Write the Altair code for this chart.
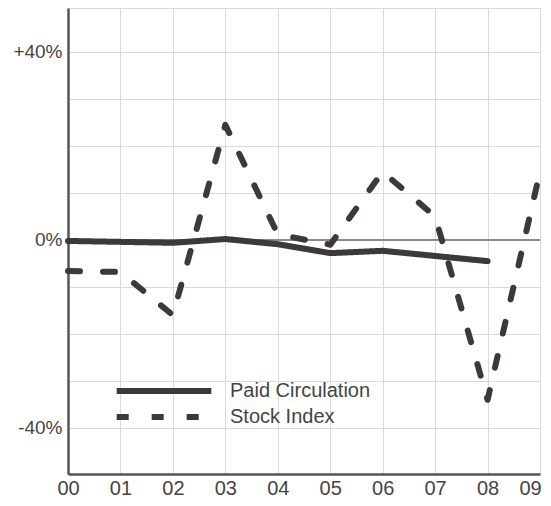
import altair as alt
import pandas as pd

years = ["00", "01", "02", "03", "04", "05", "06", "07", "08", "09"]
paid_circulation = [-0.2, -0.4, -0.6, 0.2, -0.9, -2.8, -2.3, -3.4, -4.5, None]
stock_index = [-6.6, -6.8, -16.0, 24.5, 1.2, -1.0, 14.5, 5.0, -34.0, 14.5]
series_names = ["Paid Circulation", "Stock Index"]
y_label_values = [-40, 0, 40]
y_label_texts = ["-40%", "0%", "+40%"]
y_grid_values = [-50, -40, -30, -20, -10, 0, 10, 20, 30, 40, 50]
zero_line = [0]

rows = []
for yr, p, s in zip(years, paid_circulation, stock_index):
    if p is not None:
        rows.append({"year": yr, "series": series_names[0], "value": p})
    if s is not None:
        rows.append({"year": yr, "series": series_names[1], "value": s})
df = pd.DataFrame(rows)

label_expr = " : ".join(
    f"datum.value == {v} ? '{t}'" for v, t in zip(y_label_values, y_label_texts)
) + " : ''"

FONT = "Liberation Sans"
TXT = "#444444"
INK = "#3d393a"
GRID = "#dadada"

x_enc = alt.X(
    "year:O",
    scale=alt.Scale(type="point", padding=0, domain=years),
    axis=alt.Axis(
        title=None, labelAngle=0, ticks=False, grid=True, labelFontSize=20, labelFont=FONT,
        labelColor=TXT, labelPadding=4, domainColor="#555555", domainWidth=2.5,
        gridColor=GRID, gridWidth=1,
        labelOffset={"condition": {"test": f"datum.value == '{years[-1]}'", "value": -10}, "value": 0},
    ),
)

lines = alt.Chart(df).mark_line(strokeWidth=6, strokeCap="round", strokeJoin="round").encode(
    x=x_enc,
    y=alt.Y(
        "value:Q",
        scale=alt.Scale(domain=[-49.79, 49.36], nice=False, zero=False),
        axis=alt.Axis(
            title=None, values=y_grid_values, labelExpr=label_expr, ticks=False,
            labelFontSize=19, labelFont=FONT, labelColor=TXT, labelPadding=6,
            domainColor="#555555", domainWidth=2.5, gridColor=GRID, gridWidth=1,
        ),
    ),
    color=alt.value(INK),
    strokeDash=alt.StrokeDash(
        "series:N",
        scale=alt.Scale(domain=series_names, range=[[1, 0], [12, 23]]),
        legend=alt.Legend(
            title=None, orient="none", legendX=82, legendY=369,
            symbolType="M-4.3,0H4.3", symbolSize=484, symbolStrokeWidth=6,
            symbolStrokeColor=INK, labelFontSize=20, labelFont=FONT,
            labelColor=TXT, labelOffset=52, rowPadding=-3,
        ),
    ),
)

zero = alt.Chart(pd.DataFrame({"v": zero_line})).mark_rule(color="#8a8a8a", strokeWidth=2).encode(
    y="v:Q"
)

chart = alt.layer(zero, lines).properties(
    width=472, height=466,
    autosize=alt.AutoSizeParams(type="none"),
    padding={"left": 60, "top": 0, "right": 3, "bottom": 24},
).configure_view(stroke=GRID, strokeWidth=1)

chart.save("out.html", embed_options={"renderer": "svg", "actions": False})
